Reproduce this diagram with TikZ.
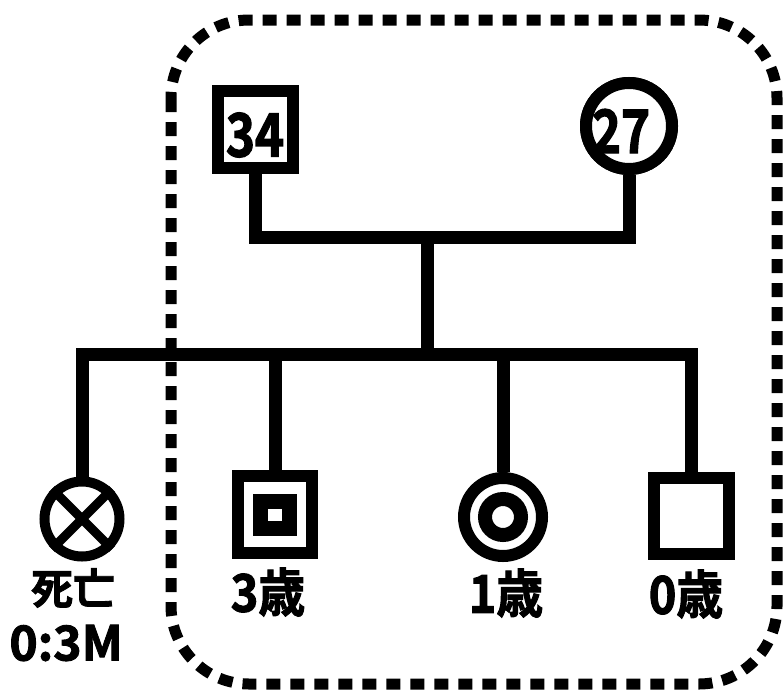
\documentclass[tikz,border=0pt]{standalone}
\usepackage{fontspec}
\newfontfamily\cjk{Noto Sans CJK JP}[BoldFont={Noto Sans CJK JP Bold}, BoldFeatures={FakeBold=2}]
\newfontfamily\cjknarrow{Noto Sans CJK JP}[BoldFont={Noto Sans CJK JP Bold}, BoldFeatures={FakeBold=2, FakeStretch=0.82}]
\newfontfamily\cjkmid{Noto Sans CJK JP}[BoldFont={Noto Sans CJK JP Bold}, BoldFeatures={FakeBold=2, FakeStretch=0.9}]
\begin{document}
\begin{tikzpicture}[x=1pt,y=-1pt,
  shp/.style={draw=black, line width=12pt, inner sep=0pt, fill=white},
  sq/.style={shp, rectangle, minimum width=75pt, minimum height=77pt},
  ci/.style={shp, circle, minimum size=86pt},
  conn/.style={line width=13pt, line join=miter},
  lbl/.style={font=\cjkmid\bfseries\fontsize{52}{52}\selectfont, inner sep=0pt},
  agelbl/.style={font=\cjk\bfseries\fontsize{48}{48}\selectfont, inner sep=0pt},
  smalllbl/.style={font=\cjk\bfseries\fontsize{42}{42}\selectfont, inner sep=0pt},
  num/.style={font=\cjknarrow\bfseries\fontsize{60}{60}\selectfont, inner sep=0pt},
  grp/.style={line width=11pt, dash pattern=on 14pt off 10pt, rounded corners=78pt}]
\useasboundingbox (0,0) rectangle (784,691);
% group box
\draw[grp] (171,20) rectangle (777,684);
% junction coordinates
\coordinate (pm) at (427,237);
\coordinate (sib) at (427,354);
% parents
\node[sq] (f) at (255.5,129.5) {};
\node[ci] (m) at (629,126) {};
% children
\node[shp, circle, line width=10pt, minimum size=75pt] (c1) at (82,519) {};
\node[sq, minimum width=74pt, minimum height=77pt] (c2) at (275,514.5) {};
\node[ci, minimum size=78pt] (c3) at (503,517) {};
\node[sq, minimum width=75pt, minimum height=76pt] (c4) at (691.5,516) {};
% connectors
\draw[conn] (f.south) |- (pm) -| (m.south);
\draw[conn] (pm) -- (sib);
\draw[conn] (c1.north) |- (sib) -| (c4.north);
\draw[conn] (c2.north) -- (c2.north |- sib);
\draw[conn] (c3.north) -- (c3.north |- sib);
% redraw shapes over connector ends
\node[sq] at (f) {};
\node[ci] at (m) {};
% symbols inside children
\draw[line width=9pt] (c1.45) -- (c1.225);
\draw[line width=9pt] (c1.135) -- (c1.-45);
\node[draw=black, line width=15pt, rectangle, minimum width=29pt, minimum height=27pt, inner sep=0pt] (c2i) at (c2) {};
\node[draw=black, line width=14pt, circle, minimum size=36pt, inner sep=0pt] (c3i) at (c3) {};
% texts
\node[num] (t34) at (255,135) {34};
\node[num] (t27) at (621,131) {27};
\node[smalllbl] (d1) at (73,588) {死亡};
\node[agelbl] (d2) at (66,643) {0:3M};
\node[lbl] (l2) at (268,592) {3歳};
\node[lbl] (l3) at (506,593) {1歳};
\node[lbl] (l4) at (686,594) {0歳};
\end{tikzpicture}
\end{document}
